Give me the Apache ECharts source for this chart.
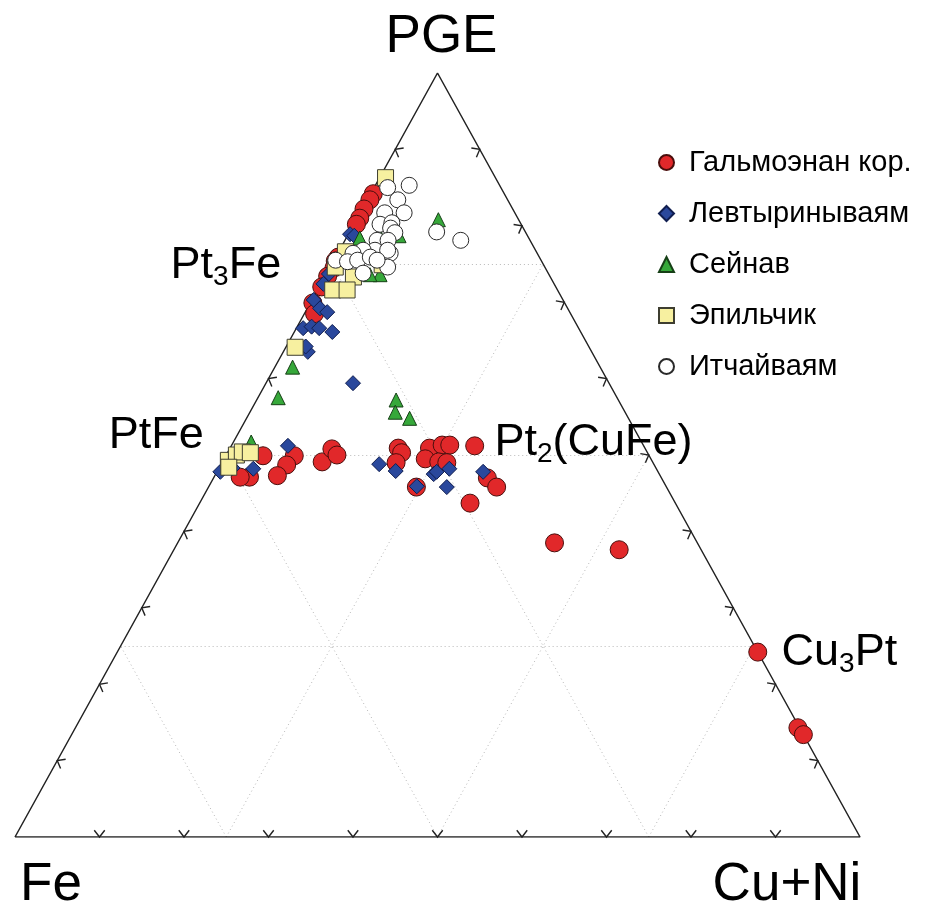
<!DOCTYPE html>
<html>
<head>
<meta charset="utf-8">
<script src="https://cdn.jsdelivr.net/npm/echarts@6/dist/echarts.min.js"></script>
<style>html,body{margin:0;padding:0;background:#fff}#chart{width:942px;height:911px}</style>
</head>
<body>
<div id="chart"></div>
<script>
// состав точек: [PGE, Cu+Ni, Fe], %
var galmoenan = [
    [84.2,0.3,15.5],[83.4,0.3,16.3],[82.2,0.2,17.6],[81.0,0.3,18.7],[80.2,0.3,19.5],
    [75.9,0.3,23.8],[75.4,0.2,24.4],[74.5,0.5,25.0],[73.4,0.3,26.3],[72.0,0.3,27.7],[69.9,0.3,29.8],[68.5,1.2,30.3],
    [49.9,4.4,45.7],[49.9,8.1,42.0],[48.7,7.8,43.5],[47.3,7.4,45.3],[47.1,4.2,48.7],[47.1,3.1,49.8],
    [49.1,11.8,39.1],[50.8,12.1,37.1],[50.0,13.1,36.9],
    [50.9,19.9,29.2],[50.3,20.6,29.1],[49.0,20.6,30.4],[45.8,24.6,29.6],[50.9,23.6,25.5],[51.3,24.9,23.8],
    [51.3,25.8,22.9],[49.5,23.8,26.7],[49.1,25.6,25.3],[49.0,26.6,24.4],
    [51.2,28.8,20.0],[47.0,32.4,20.6],[45.8,34.1,20.1],[43.7,32.0,24.3],
    [38.5,44.6,16.9],[37.6,52.7,9.7],[24.2,75.8,0],[14.3,85.5,0.2],[13.4,86.6,0]
];
var levtyrin = [
    [78.9,0.2,20.9],[78.7,0.8,20.5],[73.7,0.3,26.0],[72.4,0.3,27.3],[70.3,0.2,29.5],[69.2,1.5,29.3],
    [68.7,2.6,28.7],[66.6,0.8,32.6],[66.8,1.7,31.5],[66.6,2.7,30.7],[66.1,4.5,29.4],[63.5,2.9,33.6],
    [64.2,2.3,33.5],[59.4,10.3,30.3],
    [47.8,0.4,51.8],[48.3,1.6,50.1],[48.2,4.1,47.7],[51.2,6.7,42.1],[48.8,18.7,32.5],[47.9,21.1,31.0],
    [45.9,24.6,29.5],[47.5,25.8,26.7],[47.8,26.0,26.2],[48.2,27.3,24.5],[45.8,28.2,26.0],[47.8,31.5,20.7]
];
var seinav = [
    [80.8,9.7,9.5],[78.4,1.6,20.0],[78.5,4.0,17.5],[78.7,6.1,15.2],[73.6,6.4,20.0],[73.6,5.2,21.2],
    [61.5,2.1,36.4],[57.5,2.4,40.1],[57.2,16.5,26.3],[55.6,17.2,27.2],[54.8,19.3,25.9],[51.7,2.1,46.2]
];
var epilchik = [
    [86.3,0.7,13.0],[76.6,0.8,22.6],[74.6,0.6,24.8],[74.9,6.0,19.1],[73.3,3.4,23.3],[71.6,1.8,26.6],
    [71.6,3.5,24.9],[64.1,1.1,34.8],[49.3,0.6,50.1],[50.0,1.2,48.8],[50.4,1.7,47.9],[50.3,2.7,47.0],[48.4,1.1,50.5]
];
var itchai = [
    [85.0,1.6,13.4],[85.3,4.0,10.7],[83.4,3.6,13.0],[81.7,5.2,13.1],[81.7,2.9,15.4],[80.2,3.1,16.7],
    [80.4,4.4,15.2],[79.7,4.6,15.7],[79.1,5.4,15.5],[79.2,10.3,10.5],[78.1,13.7,8.2],[78.1,3.8,18.1],
    [78.1,5.1,16.8],[76.8,4.2,19.0],[76.8,2.8,20.4],[76.4,1.8,21.8],[76.4,6.2,17.4],[75.5,0.2,24.3],
    [75.3,1.7,23.0],[75.5,2.8,21.7],[75.9,4.1,20.0],[76.8,5.7,17.5],[74.6,6.8,18.6],[73.8,4.3,21.9],[75.5,5.1,19.4]
];
var seriesNames = ['Гальмоэнан кор.', 'Левтыринываям', 'Сейнав', 'Эпильчик', 'Итчайваям'];
var gridSteps = [25, 50, 75];
var tickSteps = [10, 20, 30, 40, 50, 60, 70, 80, 90];
// вершины: Fe, Cu+Ni, PGE
var vertices = [[0, 0, 100], [0, 100, 0], [100, 0, 0]];
// минералы
var minerals = [
    {name: 'Pt3Fe', comp: [75, 0, 25]},
    {name: 'PtFe', comp: [50, 0, 50]},
    {name: 'Pt2(CuFe)', comp: [50, 25, 25]},
    {name: 'Cu3Pt', comp: [25, 75, 0]}
];

function toXY(p) {
    var s = p[0] + p[1] + p[2];
    var a = p[0] / s, b = p[1] / s;
    return [b + a / 2, a];
}

// сетка 25%
var gridLines = [];
gridSteps.forEach(function (t) {
    gridLines.push({coords: [toXY([t, 0, 100 - t]), toXY([t, 100 - t, 0])]});
    gridLines.push({coords: [toXY([0, t, 100 - t]), toXY([100 - t, t, 0])]});
    gridLines.push({coords: [toXY([0, 100 - t, t]), toXY([100 - t, 0, t])]});
});

// засечки по 10%
var ticks = [];
tickSteps.forEach(function (t) {
    ticks.push(toXY([0, t, 100 - t]).concat([0]));
    ticks.push(toXY([t, 100 - t, 0]).concat([1]));
    ticks.push(toXY([t, 0, 100 - t]).concat([2]));
});

var outline = vertices.concat([vertices[0]]).map(toXY);

var sub = {fontSize: 28, padding: [22, 0, 0, 0], color: '#000'};
var main = {fontSize: 45, color: '#000'};
var labelData = [
    {value: toXY(vertices[2]), label: {formatter: 'PGE', fontSize: 53, offset: [4, -36]}},
    {value: toXY(vertices[0]), label: {formatter: 'Fe', fontSize: 53, offset: [36, 48]}},
    {value: toXY(vertices[1]), label: {formatter: 'Cu+Ni', fontSize: 53, offset: [-73, 48]}},
    {value: toXY(minerals[0].comp), label: {formatter: '{m|Pt}{s|3}{m|Fe}', offset: [-106, 2]}},
    {value: toXY(minerals[1].comp), label: {formatter: '{m|PtFe}', offset: [-70, -19]}},
    {value: toXY(minerals[2].comp), label: {formatter: '{m|Pt}{s|2}{m|(CuFe)}', offset: [156, -12]}},
    {value: toXY(minerals[3].comp), label: {formatter: '{m|Cu}{s|3}{m|Pt}', offset: [85, 7]}}
];

var pointStyle = {
    circle: {color: '#e1282a', borderColor: '#4a0e0c', borderWidth: 1, opacity: 1},
    diamond: {color: '#2a489c', borderColor: '#101e50', borderWidth: 1, opacity: 1},
    triangle: {color: '#36a83a', borderColor: '#163f16', borderWidth: 1, opacity: 1},
    rect: {color: '#f7f0a0', borderColor: '#3e3e30', borderWidth: 1, opacity: 1},
    open: {color: '#ffffff', borderColor: '#2a2a2a', borderWidth: 1, opacity: 1}
};

function scatter(name, data, symbol, size, style) {
    return {
        name: name,
        type: 'scatter',
        symbol: symbol,
        symbolSize: size,
        data: data.map(toXY),
        itemStyle: style,
        z: 5
    };
}

var option = {
    backgroundColor: '#fff',
    animation: false,
    textStyle: {fontFamily: 'Liberation Sans, Arial, sans-serif'},
    grid: {left: 15, right: 82, top: 73, bottom: 74},
    xAxis: {type: 'value', min: 0, max: 1, show: false},
    yAxis: {type: 'value', min: 0, max: 1, show: false},
    legend: {
        orient: 'vertical',
        left: 653,
        top: 143,
        itemWidth: 15,
        itemHeight: 15,
        itemGap: 22,
        textStyle: {fontSize: 29, color: '#000', padding: [0, 0, 0, 10]},
        data: seriesNames
    },
    series: [
        {
            type: 'lines',
            coordinateSystem: 'cartesian2d',
            silent: true,
            data: gridLines,
            lineStyle: {color: '#b8b8b8', width: 1, type: [1, 3], opacity: 1},
            z: 1
        },
        {
            type: 'line',
            data: outline,
            symbol: 'none',
            silent: true,
            lineStyle: {color: '#222', width: 1.5},
            z: 2
        },
        {
            type: 'custom',
            data: ticks,
            silent: true,
            z: 2,
            renderItem: function (params, api) {
                var p = api.coord([api.value(0), api.value(1)]);
                var e = api.value(2);
                var V = vertices.map(function (v) { return api.coord(toXY(v)); });
                var A = V[e], B = V[(e + 1) % 3];
                var G = [(V[0][0] + V[1][0] + V[2][0]) / 3, (V[0][1] + V[1][1] + V[2][1]) / 3];
                var dx = B[0] - A[0], dy = B[1] - A[1], len = Math.sqrt(dx * dx + dy * dy);
                var n = [-dy / len, dx / len];
                if (n[0] * (G[0] - A[0]) + n[1] * (G[1] - A[1]) < 0) { n = [-n[0], -n[1]]; }
                var th = 38 * Math.PI / 180, L = 8.5;
                function arm(s) {
                    var c = Math.cos(s * th), si = Math.sin(s * th);
                    return [p[0] + L * (n[0] * c - n[1] * si), p[1] + L * (n[0] * si + n[1] * c)];
                }
                return {
                    type: 'polyline',
                    shape: {points: [arm(1), p, arm(-1)]},
                    style: {stroke: '#222', fill: null, lineWidth: 1.4}
                };
            }
        },
        scatter(seriesNames[0], galmoenan, 'circle', 18, pointStyle.circle),
        scatter(seriesNames[1], levtyrin, 'diamond', 15, pointStyle.diamond),
        scatter(seriesNames[2], seinav, 'triangle', 14, pointStyle.triangle),
        scatter(seriesNames[3], epilchik, 'rect', 16, pointStyle.rect),
        scatter(seriesNames[4], itchai, 'circle', 16, pointStyle.open),
        {
            type: 'scatter',
            symbolSize: 0,
            silent: true,
            data: labelData,
            itemStyle: {opacity: 1},
            z: 6,
            label: {
                show: true,
                position: 'inside',
                align: 'center',
                verticalAlign: 'middle',
                color: '#000',
                textBorderWidth: 0,
                fontSize: 45,
                rich: {m: main, s: sub}
            }
        }
    ]
};

var chart = echarts.init(document.getElementById('chart'));
chart.setOption(option);
</script>
</body>
</html>
